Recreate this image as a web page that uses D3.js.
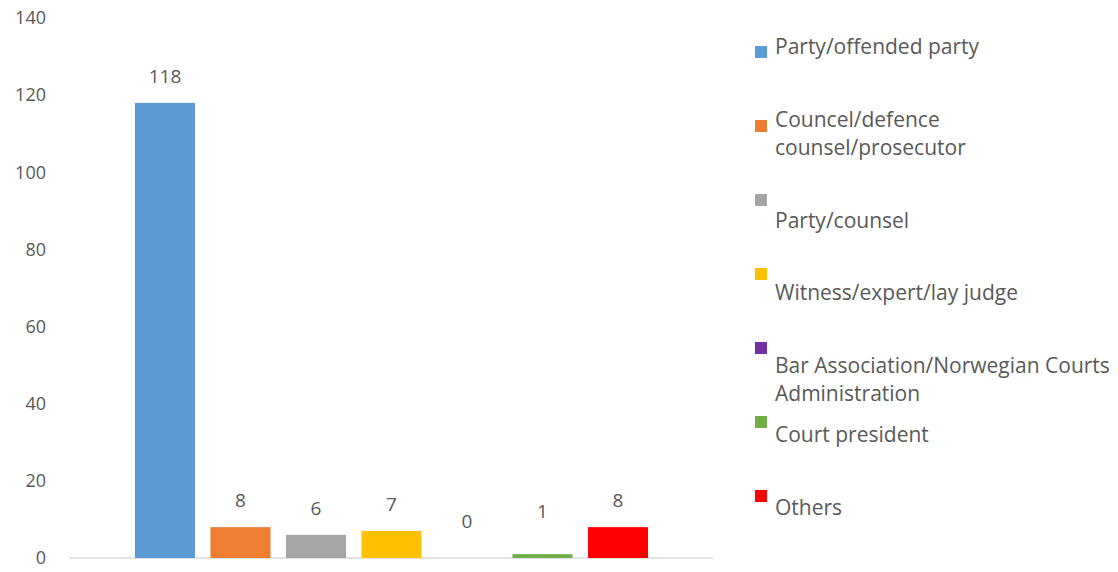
<!DOCTYPE html>
<html>
<head>
<meta charset="utf-8">
<script src="https://cdn.jsdelivr.net/npm/d3@7"></script>
<style>
  html, body { margin: 0; padding: 0; background: #fff; }
  svg { display: block; }
  text { font-family: "Open Sans", "Noto Sans", sans-serif; }
</style>
</head>
<body>
<svg id="chart" width="1118" height="572"></svg>
<script>
// Complaint sources, number of cases
const categories = [
  "Party/offended party",
  "Councel/defence counsel/prosecutor",
  "Party/counsel",
  "Witness/expert/lay judge",
  "Bar Association/Norwegian Courts Administration",
  "Court president",
  "Others"
];
const values = [118, 8, 6, 7, 0, 1, 8];
const colors = ["#5b9bd5", "#ed7d31", "#a5a5a5", "#ffc000", "#7030a0", "#70ad47", "#ff0000"];
const yTicks = [0, 20, 40, 60, 80, 100, 120, 140];
// Legend text, broken into lines
const legendLines = [
  ["Party/offended party"],
  ["Councel/defence", "counsel/prosecutor"],
  ["Party/counsel"],
  ["Witness/expert/lay judge"],
  ["Bar Association/Norwegian Courts", "Administration"],
  ["Court president"],
  ["Others"]
];

const svg = d3.select("#chart");
const textColor = "#595959";

const x = d3.scaleBand()
  .domain(d3.range(categories.length))
  .range([70, 713])
  .paddingInner(0.205)
  .paddingOuter(0.86);

const y = d3.scaleLinear().domain([0, 140]).range([558, 18]);

// Value axis: labels only, no line or ticks
const yAxis = svg.append("g")
  .attr("transform", "translate(46,0)")
  .call(d3.axisLeft(y).tickValues(yTicks).tickSize(0).tickPadding(0));
yAxis.select(".domain").remove();
yAxis.selectAll("text")
  .attr("fill", textColor)
  .style("font-size", "18px")
  .style("font-family", "'Open Sans', sans-serif");

// Category baseline
svg.append("line")
  .attr("x1", x.range()[0]).attr("x2", x.range()[1])
  .attr("y1", y(0)).attr("y2", y(0))
  .attr("stroke", "#d9d9d9").attr("stroke-width", 1.5);

// Bars
svg.append("g").selectAll("rect")
  .data(values)
  .join("rect")
  .attr("x", (d, i) => x(i))
  .attr("width", x.bandwidth())
  .attr("y", d => y(d))
  .attr("height", d => y(0) - y(d))
  .attr("fill", (d, i) => colors[i]);

// Value labels above bars (small bars get a little extra lift)
const labelLift = [0, 0, 0, 0, 10, 16, 0];
svg.append("g").selectAll("text")
  .data(values)
  .join("text")
  .attr("x", (d, i) => x(i) + x.bandwidth() / 2)
  .attr("y", (d, i) => y(d) - 20 - labelLift[i])
  .attr("text-anchor", "middle")
  .attr("fill", textColor)
  .style("font-size", "19px")
  .text(d => d);

// Legend
const legendY = d3.scalePoint()
  .domain(d3.range(categories.length))
  .range([52, 496]);
const textDy = [2, 1, 28, 26, 25, 20, 19];
const lineGap = 28;

const legend = svg.append("g").selectAll("g")
  .data(categories)
  .join("g")
  .attr("transform", (d, i) => `translate(755,${legendY(i)})`);

legend.append("rect")
  .attr("x", 0).attr("y", -6)
  .attr("width", 12).attr("height", 12)
  .attr("fill", (d, i) => colors[i]);

legend.append("text")
  .attr("fill", textColor)
  .style("font-size", "21px")
  .each(function (d, i) {
    d3.select(this).selectAll("tspan")
      .data(legendLines[i])
      .join("tspan")
      .attr("x", 20)
      .attr("y", (l, j) => textDy[i] + j * lineGap)
      .text(l => l);
  });
</script>
</body>
</html>
